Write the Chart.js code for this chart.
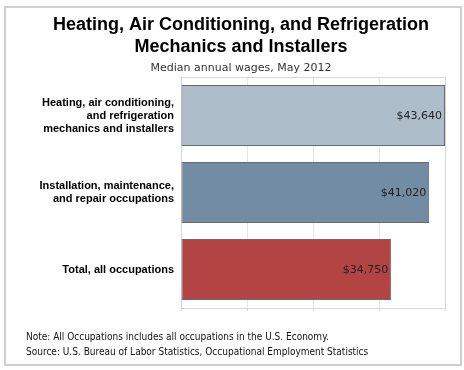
<!DOCTYPE html>
<html>
<head>
<meta charset="utf-8">
<script src="https://cdn.jsdelivr.net/npm/chart.js@4.4.1/dist/chart.umd.min.js"></script>
<style>
  html, body { margin: 0; padding: 0; background: #ffffff; }
  #wrap { position: relative; width: 464px; height: 370px; }
</style>
</head>
<body>
<div id="wrap"><canvas id="c" width="464" height="370"></canvas></div>
<script>
const categories = [
  ["Heating, air conditioning,", "and refrigeration", "mechanics and installers"],
  ["Installation, maintenance,", "and repair occupations"],
  ["Total, all occupations"]
];
const wages = [43640, 41020, 34750];
const valueLabels = ["$43,640", "$41,020", "$34,750"];
const barColors = ["#adbdc9", "#728ca3", "#b34444"];
const titleLines = ["Heating, Air Conditioning, and Refrigeration", "Mechanics and Installers"];
const subtitleText = "Median annual wages, May 2012";
const footnotes = [
  "Note: All Occupations includes all occupations in the U.S. Economy.",
  "Source: U.S. Bureau of Labor Statistics, Occupational Employment Statistics"
];
const axisMax = 43640;
const axisStep = 10910;

const decorPlugin = {
  id: 'decor',
  beforeDraw(chart) {
    const ctx = chart.ctx;
    ctx.save();
    ctx.strokeStyle = '#cfcfcf';
    ctx.lineWidth = 2;
    ctx.strokeRect(5, 7, 456, 358);
    ctx.fillStyle = '#000';
    ctx.textAlign = 'center';
    ctx.textBaseline = 'middle';
    ctx.font = 'bold 18px "Liberation Sans", Arial, sans-serif';
    ctx.fillText(titleLines[0], 241, 25);
    ctx.fillText(titleLines[1], 241, 47);
    ctx.fillStyle = '#333';
    ctx.font = '11px "DejaVu Sans", Verdana, sans-serif';
    ctx.fillText(subtitleText, 241, 68);
    ctx.textAlign = 'left';
    ctx.fillStyle = '#111';
    ctx.font = '10px "DejaVu Sans Condensed", "DejaVu Sans", sans-serif';
    ctx.fillText(footnotes[0], 26, 337);
    ctx.fillText(footnotes[1], 26, 352);
    ctx.restore();
  },
  beforeDatasetsDraw(chart) {
    const a = chart.chartArea;
    const ctx = chart.ctx;
    ctx.save();
    ctx.strokeStyle = '#d6d6d6';
    ctx.lineWidth = 1;
    ctx.strokeRect(Math.round(a.left) + 0.5, Math.round(a.top) + 0.5, Math.round(a.right - a.left) , Math.round(a.bottom - a.top));
    ctx.restore();
  },
  afterDatasetsDraw(chart) {
    const ctx = chart.ctx;
    const meta = chart.getDatasetMeta(0);
    ctx.save();
    ctx.fillStyle = '#222';
    ctx.font = '11px "DejaVu Sans", Verdana, sans-serif';
    ctx.textAlign = 'right';
    ctx.textBaseline = 'middle';
    meta.data.forEach((bar, i) => {
      ctx.fillText(valueLabels[i], bar.x - 3, bar.y + 1);
    });
    ctx.restore();
  }
};

new Chart(document.getElementById('c'), {
  type: 'bar',
  data: {
    labels: categories,
    datasets: [{
      data: wages,
      backgroundColor: barColors,
      borderColor: '#6a6a6a',
      borderWidth: 1,
      borderSkipped: false,
      categoryPercentage: 1,
      barPercentage: 0.79
    }]
  },
  options: {
    indexAxis: 'y',
    responsive: false,
    animation: false,
    events: [],
    layout: { padding: { top: 77, bottom: 59, left: 0, right: 19 } },
    plugins: { legend: { display: false }, title: { display: false }, tooltip: { enabled: false } },
    scales: {
      x: {
        min: 0,
        max: axisMax,
        ticks: { display: false, stepSize: axisStep },
        grid: { color: '#e6e6e6', tickLength: 3, drawTicks: true, tickColor: '#d6d6d6' },
        border: { display: true, color: '#d6d6d6' }
      },
      y: {
        ticks: {
          color: '#000',
          padding: 7,
          font: { family: '"Liberation Sans", Arial, sans-serif', size: 11, weight: 'bold', lineHeight: 1.18 }
        },
        grid: { display: false, drawTicks: false },
        border: { display: false },
        afterFit(scale) { scale.width = 181; }
      }
    }
  },
  plugins: [decorPlugin]
});
</script>
</body>
</html>
